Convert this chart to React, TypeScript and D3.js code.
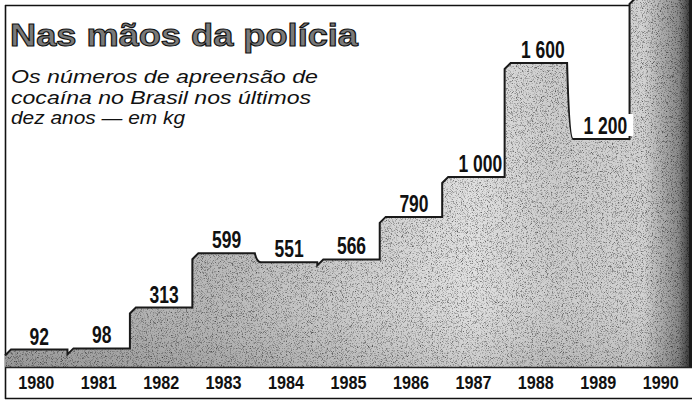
import React from "react";
import * as d3 from "d3";

// apreensão de cocaína no Brasil, em kg
const years = ["1980", "1981", "1982", "1983", "1984", "1985", "1986", "1987", "1988", "1989", "1990"];
const seized = [92, 98, 313, 599, 551, 566, 790, 1000, 1600, 1200, 2100];
// 1990 sai do quadro, sem rótulo
const valueLabels = ["92", "98", "313", "599", "551", "566", "790", "1 000", "1 600", "1 200", ""];
const subtitleLines = ["Os números de apreensão de", "cocaína no Brasil nos últimos", "dez anos — em kg"];
const subtitleWidths = [307, 300, 174];

const W = 697;
const H = 404;
const base = 367;
const sans = "Liberation Sans, Arial, sans-serif";

export default function App() {
  const x = d3.scaleBand<string>().domain(years).range([5, 692]).paddingInner(0).paddingOuter(0);
  const y = d3.scaleLinear().domain([0, 1600]).range([base, 63]);
  const bw = x.bandwidth();
  const bevel = 6;

  // degraus com o canto superior esquerdo chanfrado
  let topLine = "";
  let prevY = base;
  years.forEach((yr, i) => {
    const x0 = x(yr) as number;
    const x1 = x0 + bw;
    const yy = Math.max(-2, y(seized[i]));
    if (i === 0) {
      topLine += `M${x0},${yy + bevel}L${x0 + bevel},${yy}`;
    } else if (yy < prevY) {
      topLine += `L${x0},${yy + bevel}L${x0 + bevel},${yy}`;
    } else {
      topLine += `L${x0},${prevY}Q${x0 + 2},${yy} ${x0 + 6},${yy}`;
    }
    topLine += `L${x1},${yy}`;
    prevY = yy;
  });
  const lastX = (x(years[years.length - 1]) as number) + bw;
  const areaPath = `M5,${base}L5,${y(seized[0]) + bevel}` + topLine.slice(topLine.indexOf("L")) + `L${lastX},${base}Z`;

  return (
    <svg width={W} height={H} style={{ position: "absolute", left: 0, top: 0, background: "#fff" }}>
      <defs>
        <linearGradient id="shade" x1="0" x2="1" y1="0" y2="0">
          <stop offset="0" stopColor="#a8a8a8" />
          <stop offset="0.3" stopColor="#b8b8b8" />
          <stop offset="0.55" stopColor="#d2d2d2" />
          <stop offset="0.68" stopColor="#e0e0e0" />
          <stop offset="0.8" stopColor="#cccccc" />
          <stop offset="0.93" stopColor="#d2d2d2" />
          <stop offset="0.98" stopColor="#8a8a8a" />
          <stop offset="1" stopColor="#2a2a2a" />
        </linearGradient>
        <linearGradient id="vshade" x1="0" x2="0" y1="0" y2="1">
          <stop offset="0" stopColor="#fff" stopOpacity="0" />
          <stop offset="0.75" stopColor="#fff" stopOpacity="0" />
          <stop offset="1" stopColor="#000" stopOpacity="0.1" />
        </linearGradient>
        <filter id="grain" x="0" y="0" width="1" height="1" colorInterpolationFilters="sRGB">
          <feTurbulence type="fractalNoise" baseFrequency="1.2" numOctaves="2" seed="4" result="n" />
          <feColorMatrix in="n" type="matrix"
            values="0 0 0 0 0  0 0 0 0 0  0 0 0 0 0  1.7 0 0 0 -0.85" result="dots" />
          <feComposite in="dots" in2="SourceGraphic" operator="in" result="clipped" />
          <feMerge>
            <feMergeNode in="SourceGraphic" />
            <feMergeNode in="clipped" />
          </feMerge>
        </filter>
      </defs>

      {/* moldura */}
      <g stroke="#111" fill="none">
        <line x1={5.5} x2={5.5} y1={5} y2={399} strokeWidth={1.6} />
        <line x1={5} x2={636} y1={5.5} y2={5.5} strokeWidth={1.6} />
        <line x1={5} x2={692} y1={398.5} y2={398.5} strokeWidth={1.4} />
      </g>

      {/* título */}
      <text x={10} y={46} fontFamily={sans} fontWeight="bold" fontSize={32}
        fill="#7a7a7a" stroke="#111" strokeWidth={1.1} textLength={348} lengthAdjust="spacingAndGlyphs">
        Nas mãos da polícia
      </text>
      {subtitleLines.map((l, i) => (
        <text key={i} x={11} y={83 + i * 20.5} fontFamily={sans} fontStyle="italic"
          fontSize={18} fill="#111" textLength={subtitleWidths[i]} lengthAdjust="spacingAndGlyphs">
          {l}
        </text>
      ))}

      {/* área em degraus */}
      <path d={areaPath} fill="url(#shade)" filter="url(#grain)" />
      <path d={areaPath} fill="url(#vshade)" />
      <path d={"M" + topLine.slice(1)} fill="none" stroke="#1a1a1a" strokeWidth={2} />
      <line x1={lastX - 1.5} x2={lastX - 1.5} y1={0} y2={base} stroke="#1a1a1a" strokeWidth={3} />
      <line x1={5} x2={lastX} y1={base + 0.5} y2={base + 0.5} stroke="#222" strokeWidth={1.5} />

      {/* rótulos de valor */}
      {years.map((yr, i) => {
        if (!valueLabels[i]) return null;
        const cx = (x(yr) as number) + bw / 2 + (i >= 7 ? 7 : 3);
        const ty = y(seized[i]) - 5;
        return (
          <g key={yr}>
            {yr === "1989" && <rect x={cx - 28} y={ty - 20} width={56} height={22} fill="#fff" />}
            <text transform={`translate(${cx},${ty}) scale(0.76,1)`} textAnchor="middle"
              fontFamily={sans} fontWeight="bold" fontSize={23} fill="#111">
              {valueLabels[i]}
            </text>
          </g>
        );
      })}

      {/* anos */}
      {years.map((yr) => (
        <text key={yr} transform={`translate(${(x(yr) as number) + bw / 2},389) scale(0.9,1)`} textAnchor="middle"
          fontFamily={sans} fontWeight="bold" fontSize={18} fill="#111">
          {yr}
        </text>
      ))}
    </svg>
  );
}
